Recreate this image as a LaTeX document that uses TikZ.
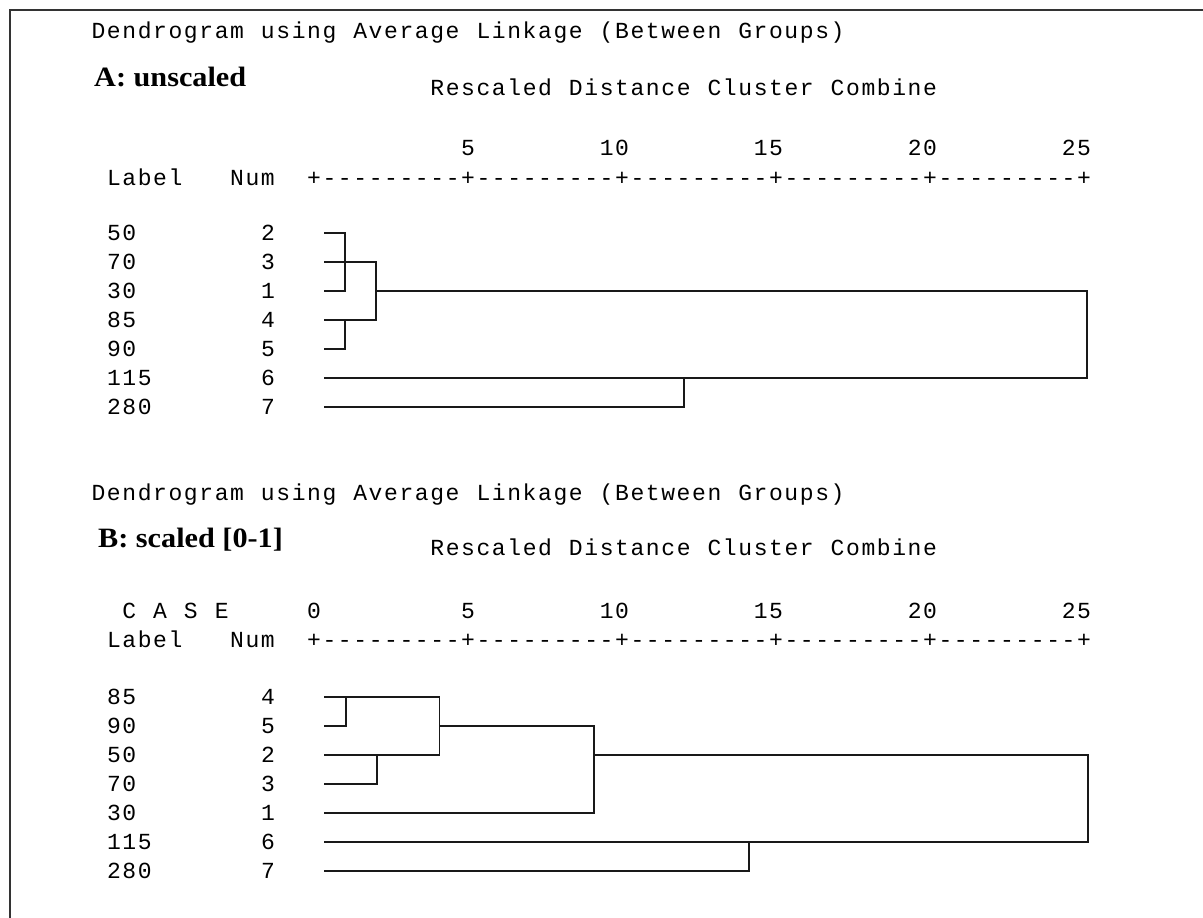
\documentclass[tikz,border=0pt]{standalone}
\usepackage{fontspec}
\newfontfamily\monofont{Liberation Mono}
\newfontfamily\headfont{Liberation Serif}[FakeStretch=1.08]

% fixed-pitch typesetting: every character sits in a cell of width \cellw, ~ is a blank cell
\newlength\cellw
\setlength\cellw{15.4pt}
\def\monoloop#1{\ifx\relax#1\else\makebox[\cellw][c]{\ifx~#1\else#1\fi}\expandafter\monoloop\fi}
\newcommand\monostr[1]{\monoloop#1\relax}

% one case row: name, centre line y, label, case number
\newcommand\caserow[4]{%
  \node[mono] (#1l) at (106,#2+7) {\monostr{#3}};
  \node[mono] (#1n) at (260,#2+7) {\monostr{#4}};
  \coordinate (#1) at (324,#2);
}

\begin{document}
\begin{tikzpicture}[x=1pt,y=-1pt,
  mono/.style={font=\monofont\fontsize{23}{23}\selectfont, inner sep=0pt, anchor=base west, text=black},
  head/.style={font=\headfont\bfseries\fontsize{28}{28}\selectfont, inner sep=0pt, anchor=base west, text=black},
  tree/.style={line width=1.8pt, draw=black!90, line join=miter},
  frame/.style={line width=2pt, draw=black!80}]

\fill[white] (0,0) rectangle (1203,918);
\useasboundingbox (0,0) rectangle (1203,918);

% frame on the left and top edges
\coordinate (fTR) at (1203,10);
\coordinate (fTL) at (10,10);
\coordinate (fBL) at (10,918);
\draw[frame] (fTR) -- (fTL) -- (fBL);

% ---------------- A: unscaled ----------------
\node[mono] (titleA) at (90.6,38) {\monostr{Dendrogram~using~Average~Linkage~(Between~Groups)}};
\node[head] (headA) at (94,86) {A: unscaled};
\node[mono] (rescA) at (429.4,95) {\monostr{Rescaled~Distance~Cluster~Combine}};

\node[mono] (tA5)  at (106+15.4*23,155) {\monostr{5}};
\node[mono] (tA10) at (106+15.4*32,155) {\monostr{10}};
\node[mono] (tA15) at (106+15.4*42,155) {\monostr{15}};
\node[mono] (tA20) at (106+15.4*52,155) {\monostr{20}};
\node[mono] (tA25) at (106+15.4*62,155) {\monostr{25}};

\node[mono] (labA)  at (106,185) {\monostr{Label}};
\node[mono] (numA)  at (106+15.4*8,185) {\monostr{Num}};
\node[mono] (axisA) at (106+15.4*13,185) {\monostr{+---------+---------+---------+---------+---------+}};

\caserow{a0}{233.3}{50}{2}
\caserow{a1}{262.3}{70}{3}
\caserow{a2}{291.3}{30}{1}
\caserow{a3}{320.3}{85}{4}
\caserow{a4}{349.3}{90}{5}
\caserow{a5}{378.3}{115}{6}
\caserow{a6}{407.3}{280}{7}

\coordinate (jA1) at (345,0);
\coordinate (jA2) at (376,0);
\coordinate (jA3) at (684,0);
\coordinate (jA4) at (1087,0);

\draw[tree] (a0) -- (a0 -| jA1) -- (a2 -| jA1) -- (a2);
\draw[tree] (a1) -- (a1 -| jA2) -- (a3 -| jA2) -- (a3);
\draw[tree] (a3 -| jA1) -- (a4 -| jA1) -- (a4);
\draw[tree] (a2 -| jA2) -- (a2 -| jA4) -- (a5 -| jA4) -- (a5);
\draw[tree] (a6) -- (a6 -| jA3) -- (a5 -| jA3);

% ---------------- B: scaled [0-1] ----------------
\node[mono] (titleB) at (90.6,500) {\monostr{Dendrogram~using~Average~Linkage~(Between~Groups)}};
\node[head] (headB) at (98,547) {B: scaled [0-1]};
\node[mono] (rescB) at (429.4,555) {\monostr{Rescaled~Distance~Cluster~Combine}};

\node[mono] (caseB) at (106+15.4,618) {\monostr{C~A~S~E}};
\node[mono] (tB0)  at (106+15.4*13,618) {\monostr{0}};
\node[mono] (tB5)  at (106+15.4*23,618) {\monostr{5}};
\node[mono] (tB10) at (106+15.4*32,618) {\monostr{10}};
\node[mono] (tB15) at (106+15.4*42,618) {\monostr{15}};
\node[mono] (tB20) at (106+15.4*52,618) {\monostr{20}};
\node[mono] (tB25) at (106+15.4*62,618) {\monostr{25}};

\node[mono] (labB)  at (106,647) {\monostr{Label}};
\node[mono] (numB)  at (106+15.4*8,647) {\monostr{Num}};
\node[mono] (axisB) at (106+15.4*13,647) {\monostr{+---------+---------+---------+---------+---------+}};

\caserow{b0}{697.3}{85}{4}
\caserow{b1}{726.3}{90}{5}
\caserow{b2}{755.3}{50}{2}
\caserow{b3}{784.3}{70}{3}
\caserow{b4}{813.3}{30}{1}
\caserow{b5}{842.3}{115}{6}
\caserow{b6}{871.3}{280}{7}

\coordinate (jB1) at (346,0);
\coordinate (jB2) at (377,0);
\coordinate (jB3) at (439.5,0);
\coordinate (jB4) at (594,0);
\coordinate (jB5) at (749,0);
\coordinate (jB6) at (1088,0);

\draw[tree] (b1) -- (b1 -| jB1) -- (b0 -| jB1);
\draw[tree] (b0) -- (b0 -| jB3) -- (b2 -| jB3) -- (b2);
\draw[tree] (b3) -- (b3 -| jB2) -- (b2 -| jB2);
\draw[tree] (b1 -| jB3) -- (b1 -| jB4) -- (b4 -| jB4) -- (b4);
\draw[tree] (b2 -| jB4) -- (b2 -| jB6) -- (b5 -| jB6) -- (b5);
\draw[tree] (b6) -- (b6 -| jB5) -- (b5 -| jB5);

\end{tikzpicture}
\end{document}
